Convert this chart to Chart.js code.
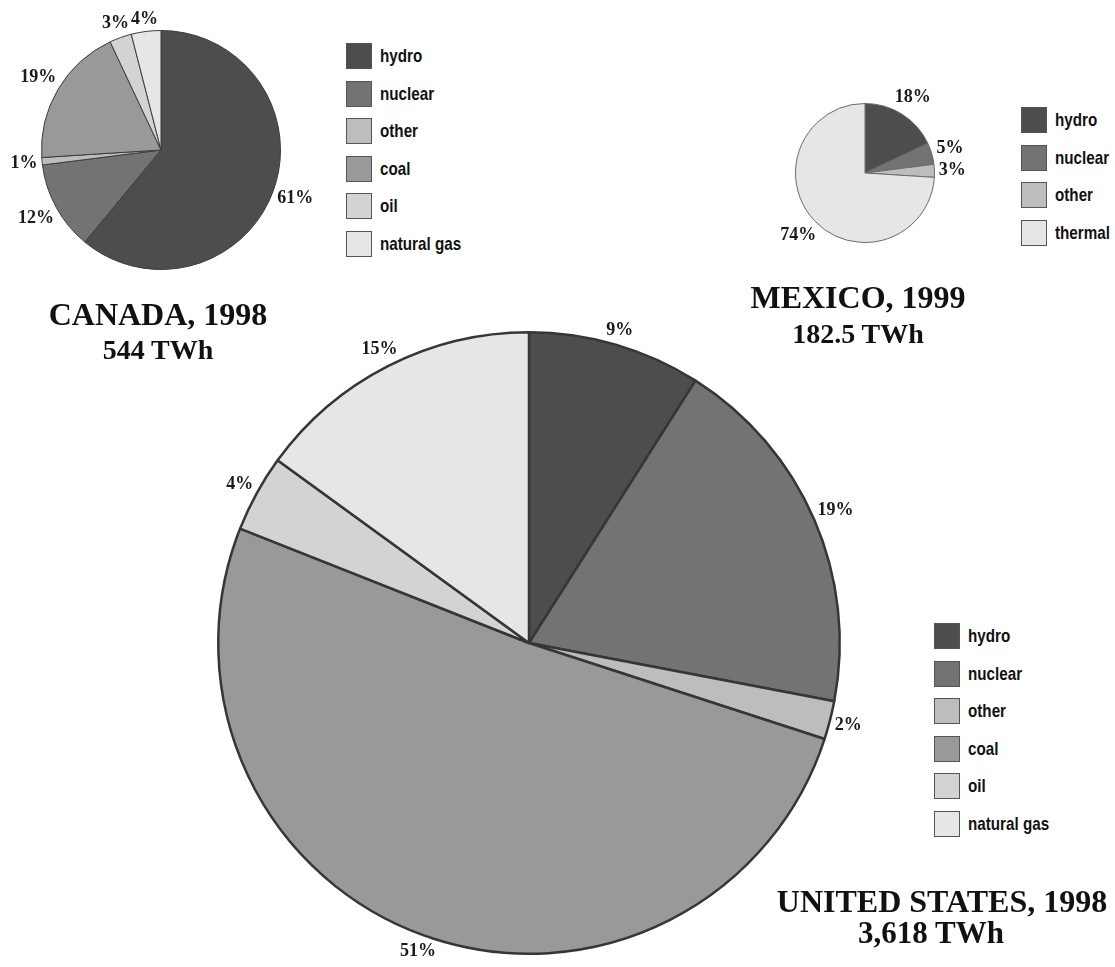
<!DOCTYPE html>
<html>
<head>
<meta charset="utf-8">
<script src="https://cdn.jsdelivr.net/npm/chart.js@4.4.1/dist/chart.umd.min.js"></script>
<style>
    body { margin: 0; width: 1115px; height: 967px; background: #fff; position: relative; overflow: hidden; }
    canvas { position: absolute; }
    .legend { position: absolute; font-family: "Liberation Sans", Arial, sans-serif; font-weight: bold; font-size: 19px; color: #111; }
    .legend .row { display: flex; align-items: center; height: 26px; margin-bottom: 11.5px; }
    .legend .sw { width: 24px; height: 24px; border: 1px solid #555; margin-right: 8px; flex: none; }
    .legend span { display: inline-block; transform: scaleX(0.8); transform-origin: left center; white-space: nowrap; }
    .title { position: absolute; font-family: "Liberation Serif", serif; font-weight: bold; color: #111; text-align: center; line-height: 1; white-space: nowrap; }
</style>
</head>
<body>

<canvas id="canadaChart"></canvas>
<canvas id="mexicoChart"></canvas>
<canvas id="usChart"></canvas>

<div class="legend" id="canadaLegend" style="left:346px; top:43px;"></div>
<div class="legend" id="mexicoLegend" style="left:1021px; top:107px;"></div>
<div class="legend" id="usLegend" style="left:934px; top:623px;"></div>

<div class="title" style="left:0; width:316px; top:298px; font-size:32px;">CANADA, 1998</div>
<div class="title" style="left:0; width:316px; top:336px; font-size:28px;">544 TWh</div>
<div class="title" style="left:708px; width:300px; top:281px; font-size:32px;">MEXICO, 1999</div>
<div class="title" style="left:708px; width:300px; top:320px; font-size:28px;">182.5 TWh</div>
<div class="title" style="left:742px; width:400px; top:885px; font-size:32px;">UNITED STATES, 1998</div>
<div class="title" style="left:731px; width:400px; top:917px; font-size:31px;">3,618 TWh</div>

<script>
// datos (porcentajes)
const canadaLabels = ['hydro', 'nuclear', 'other', 'coal', 'oil', 'natural gas'];
const canadaValues = [61, 12, 1, 19, 3, 4];

const mexicoLabels = ['hydro', 'nuclear', 'other', 'thermal'];
const mexicoValues = [18, 5, 3, 74];

const usLabels = ['hydro', 'nuclear', 'other', 'coal', 'oil', 'natural gas'];
const usValues = [9, 19, 2, 51, 4, 15];

// colores por fuente
const colores = {
    'hydro': '#4d4d4d',
    'nuclear': '#737373',
    'other': '#bdbdbd',
    'coal': '#999999',
    'oil': '#d3d3d3',
    'natural gas': '#e6e6e6',
    'thermal': '#e6e6e6',
};

// etiquetas de porcentaje fuera de cada porcion
const sliceLabels = {
    id: 'sliceLabels',
    afterDatasetsDraw(chart, args, opts) {
        const ctx = chart.ctx;
        const meta = chart.getDatasetMeta(0);
        const values = chart.data.datasets[0].data;
        ctx.save();
        ctx.font = opts.font;
        ctx.fillStyle = '#1a1a1a';
        ctx.textAlign = 'center';
        ctx.textBaseline = 'middle';
        meta.data.forEach((arc, i) => {
            const p = arc.getProps(['x', 'y', 'startAngle', 'endAngle', 'outerRadius']);
            const mid = (p.startAngle + p.endAngle) / 2;
            const txt = values[i] + '%';
            const hw = ctx.measureText(txt).width / 2;
            const c = Math.cos(mid), s = Math.sin(mid);
            const d = p.outerRadius + opts.gap + hw * Math.abs(c) + 7 * Math.abs(s);
            ctx.fillText(txt, p.x + c * d, p.y + s * d);
        });
        ctx.restore();
    }
};

function makePie(id, labels, values, cx, cy, r, bw, border, pad) {
    const canvas = document.getElementById(id);
    const size = 2 * (r + pad) + bw;
    canvas.width = size;
    canvas.height = size;
    canvas.style.left = (cx - size / 2) + 'px';
    canvas.style.top = (cy - size / 2) + 'px';

    return new Chart(canvas, {
        type: 'pie',
        data: {
            labels: labels,
            datasets: [{
                data: values,
                backgroundColor: labels.map(l => colores[l]),
                borderColor: border,
                borderWidth: bw,
                hoverBorderWidth: bw,
                hoverOffset: 0,
            }],
        },
        options: {
            responsive: false,
            animation: false,
            events: [],
            layout: { padding: pad },
            plugins: {
                legend: { display: false },
                tooltip: { enabled: false },
                sliceLabels: { font: 'bold 18px "Liberation Serif", serif', gap: 4 },
            },
        },
        plugins: [sliceLabels],
    });
}

function makeLegend(id, labels) {
    const box = document.getElementById(id);
    labels.forEach(l => {
        const row = document.createElement('div');
        row.className = 'row';
        row.innerHTML = `<div class="sw" style="background:${colores[l]}"></div><span>${l}</span>`;
        box.appendChild(row);
    });
}

makePie('canadaChart', canadaLabels, canadaValues, 161, 150, 119.5, 1, '#3c3c3c', 45);
makePie('mexicoChart', mexicoLabels, mexicoValues, 865, 173, 69.5, 1, '#6a6a6a', 45);
makePie('usChart', usLabels, usValues, 529, 643, 311, 2.5, '#363636', 60);

makeLegend('canadaLegend', canadaLabels);
makeLegend('mexicoLegend', mexicoLabels);
makeLegend('usLegend', usLabels);
</script>
</body>
</html>
